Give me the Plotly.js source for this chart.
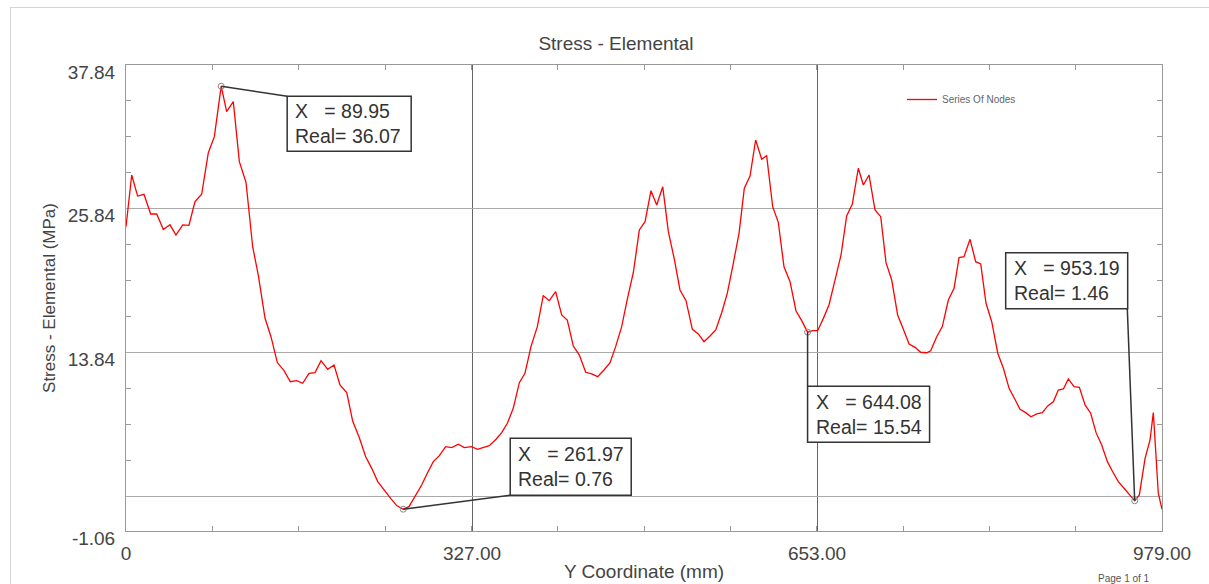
<!DOCTYPE html>
<html>
<head>
<meta charset="utf-8">
<script src="https://cdn.plot.ly/plotly-3.0.1.min.js"></script>
<style>
  html, body { margin: 0; padding: 0; background: #fff; }
  #wrap { position: relative; width: 1209px; height: 584px; }
  #chart { position: absolute; left: 0; top: 0; width: 1209px; height: 584px; }
  #frame { position: absolute; left: 10px; top: 7px; width: 1199px; height: 577px;
           border-left: 1px solid #d4d4d4; border-top: 1px solid #d4d4d4; pointer-events: none; }
</style>
</head>
<body>
<div id="wrap"><div id="chart"></div><div id="frame"></div></div>
<script>
// ---- data ----
const yCoordinate = [0,5.4,11,17,23.3,29,35.3,41.6,47.2,53.6,
  59.5,65.2,71.5,77.8,83.5,89.95,95.1,101.4,107.1,113.4,
  119.7,125,131.4,137,143,149.3,155.3,161.3,167,172.9,
  178.6,184.3,190.6,196.6,202.2,208.6,214.2,220.5,226.5,232.2,
  237.9,243.8,250.1,255.8,261.97,267.4,273.1,279.4,284.7,290.4,
  296.1,302.1,307.8,314,319.7,326.7,332,337.7,343.3,349.7,
  355,360.4,366,371.7,377,382.7,388.7,394.3,400,406,
  411.7,417,422.7,428.4,434.4,440.1,445.7,451.7,457.4,462.7,
  468.4,473.7,479.4,485.1,490.5,496.1,501.5,507.2,512.5,518.2,
  523.5,529.2,535.2,540.8,546.2,551.9,557.3,562.9,568.2,573.9,
  579.3,584.3,589.7,595,600.7,605.4,611.1,616.4,621.8,627.5,
  633.1,638.5,644.08,648.9,653.6,659,664.3,670,675.7,681,
  686.4,692,696.8,702.1,707.8,713.2,718.2,723.6,729.2,734.6,
  740,745.6,751,756.7,760.4,766.1,771.4,777.1,782.5,787.2,
  791.9,797.6,802.9,807.7,812.7,818.1,823.8,829.1,834.5,839.5,
  844.8,850.2,855.2,860.6,865.9,871,876.3,881,885.8,890.5,
  895.9,900.9,906.3,911.6,916.7,922,927.4,932.4,937.7,943.1,
  948.1,953.19,957.6,963,967.7,970.8,975.5,979];
const stress = [24.34,28.66,26.9,27.05,25.4,25.4,24.1,24.5,23.65,24.5,
  24.46,26.43,27.05,30.52,31.86,36.07,33.94,34.78,29.77,28.05,
  22.67,20.3,16.7,15.16,13.0,12.33,11.4,11.49,11.27,12.1,
  12.16,13.16,12.44,12.8,11.13,10.49,8.12,6.73,5.14,4.17,
  3.06,2.36,1.67,1.06,0.76,0.97,1.8,2.78,3.76,4.73,
  5.23,5.98,5.9,6.18,5.9,5.98,5.76,5.9,6.06,6.6,
  7.15,7.93,9.2,11.32,12.1,14.33,16.0,18.58,18.17,18.92,
  16.97,16.55,14.38,13.63,12.19,12.05,11.82,12.38,12.99,14.33,
  16.0,18.28,20.5,24.07,24.76,27.35,26.15,27.68,23.93,21.62,
  19.06,18.17,15.78,15.39,14.74,15.22,15.72,17.16,18.78,21.29,
  23.79,27.55,28.57,31.58,29.97,30.27,26.01,24.71,21.0,19.75,
  17.33,16.5,15.54,15.66,15.66,16.69,17.81,19.89,21.98,25.24,
  26.24,29.22,27.82,28.66,25.74,25.18,21.34,19.89,16.97,15.78,
  14.55,14.27,13.86,13.82,13.99,15.16,16.0,18.22,19.2,21.76,
  21.84,23.29,21.42,21.23,17.95,16.41,13.78,12.52,10.85,10.02,
  9.1,8.82,8.48,8.71,8.82,9.38,9.73,10.71,10.8,11.63,
  10.99,10.93,9.46,8.77,7.15,6.12,4.73,3.89,3.06,2.51,
  1.95,1.46,1.95,5.01,6.54,8.82,2.09,0.75];

// probed points (data tips)
const probeX = [89.95, 261.97, 644.08, 953.19];
const probeY = [36.07, 0.76, 15.54, 1.46];

// axis ticks
const xTickVals = [0, 327, 653, 979];
const xTickText = ['0', '327.00', '653.00', '979.00'];
const yTickVals = [-1.06, 1.84, 13.84, 25.84, 37.84];
const yTickText = ['-1.06', '', '13.84', '25.84', '37.84'];
const xMinorVals = [81.58, 163.17, 244.75, 326.33, 407.92, 489.5, 571.08, 652.67, 734.25, 815.83, 897.42];
const yMinorVals = [34.84, 31.84, 28.84, 22.84, 19.84, 16.84, 10.84, 7.84, 4.84];

// ---- layout of the data-tip boxes (pixel offsets from the probed point, screen down = +) ----
const tipBoxes = [
  {dx: 66,   dy: 10,   w: 124, h: 55, cx: 66,   cy: 10},
  {dx: 107,  dy: -71,  w: 121, h: 57, cx: 107,  cy: -14},
  {dx: 0,    dy: 54,   w: 122, h: 56, cx: 0,    cy: 54},
  {dx: -129, dy: -248, w: 122, h: 56, cx: -7.4, cy: -192.5}
];

const FONT = '"Liberation Sans", Arial, sans-serif';
const TXT = '#444';

const shapes = [];
const annotations = [];
probeX.forEach((px, i) => {
  const b = tipBoxes[i];
  shapes.push({
    type: 'line', xref: 'x', yref: 'y',
    xsizemode: 'pixel', ysizemode: 'pixel', xanchor: px, yanchor: probeY[i],
    x0: 0, y0: 0, x1: b.cx, y1: -b.cy,
    line: {color: '#333', width: 1.5}
  });
  shapes.push({
    type: 'rect', xref: 'x', yref: 'y',
    xsizemode: 'pixel', ysizemode: 'pixel', xanchor: px, yanchor: probeY[i],
    x0: b.dx, x1: b.dx + b.w, y0: -b.dy, y1: -(b.dy + b.h),
    fillcolor: '#fff', line: {color: '#333', width: 1.5}
  });
  annotations.push({
    x: px, y: probeY[i], xref: 'x', yref: 'y', showarrow: false,
    xanchor: 'left', yanchor: 'middle', align: 'left',
    xshift: b.dx + 6, yshift: -(b.dy + b.h / 2),
    text: 'X\u00a0\u00a0\u00a0= ' + px.toFixed(2) + '<br>Real= ' + probeY[i].toFixed(2),
    font: {family: FONT, size: 19.5, color: '#333'}
  });
});
annotations.push({
  xref: 'paper', yref: 'paper', x: (1124 - 126) / 1036, y: -(578 - 531) / 466,
  xanchor: 'center', yanchor: 'middle', showarrow: false,
  text: 'Page 1 of 1', font: {family: FONT, size: 10, color: '#555'}
});

const traces = [
  {
    x: yCoordinate, y: stress, type: 'scatter', mode: 'lines',
    name: 'Series Of Nodes', line: {color: '#ff0000', width: 1.3}
  },
  {
    x: probeX, y: probeY, type: 'scatter', mode: 'markers', showlegend: false,
    marker: {symbol: 'circle-open', size: 6, color: '#888', line: {width: 1}}
  }
];

const layout = {
  width: 1209, height: 584,
  margin: {l: 126, r: 47, t: 65, b: 53},
  paper_bgcolor: '#fff', plot_bgcolor: '#fff',
  font: {family: FONT, color: TXT},
  title: {
    text: 'Stress - Elemental', xref: 'container', x: 616 / 1209,
    yref: 'container', y: 1 - 43 / 584, yanchor: 'middle', xanchor: 'center',
    font: {family: FONT, size: 19, color: TXT}
  },
  showlegend: true,
  legend: {
    x: (902 - 126) / 1036, xanchor: 'left', y: 1 - (85 - 65) / 466, yanchor: 'top',
    bgcolor: 'rgba(0,0,0,0)', font: {family: FONT, size: 10, color: '#666'}
  },
  xaxis: {
    range: [0, 979], tickmode: 'array', tickvals: xTickVals, ticktext: xTickText,
    showgrid: true, gridcolor: '#666', gridwidth: 1, zeroline: false,
    showline: true, linecolor: '#999', linewidth: 1, mirror: 'ticks', ticks: '',
    minor: {tickmode: 'array', tickvals: xMinorVals, ticks: 'inside', ticklen: 5, tickcolor: '#999', showgrid: false},
    tickfont: {family: FONT, size: 19, color: TXT}, ticklabelstandoff: 5,
    title: {text: 'Y Coordinate (mm)', font: {family: FONT, size: 19, color: TXT}, standoff: 1},
    automargin: false, fixedrange: true
  },
  yaxis: {
    range: [-1.06, 37.84], tickmode: 'array', tickvals: yTickVals, ticktext: yTickText,
    showgrid: true, gridcolor: '#aaa', gridwidth: 1, zeroline: false,
    showline: true, linecolor: '#999', linewidth: 1, mirror: 'ticks', ticks: '',
    minor: {tickmode: 'array', tickvals: yMinorVals, ticks: 'inside', ticklen: 5, tickcolor: '#999', showgrid: false},
    tickfont: {family: FONT, size: 19, color: TXT}, ticklabelshift: 7, ticklabelstandoff: 6,
    title: {text: 'Stress - Elemental (MPa)', font: {family: FONT, size: 17, color: TXT}, standoff: 7},
    automargin: false, fixedrange: true
  },
  shapes: shapes,
  annotations: annotations
};

Plotly.newPlot('chart', traces, layout, {displayModeBar: false, staticPlot: true});
</script>
</body>
</html>
